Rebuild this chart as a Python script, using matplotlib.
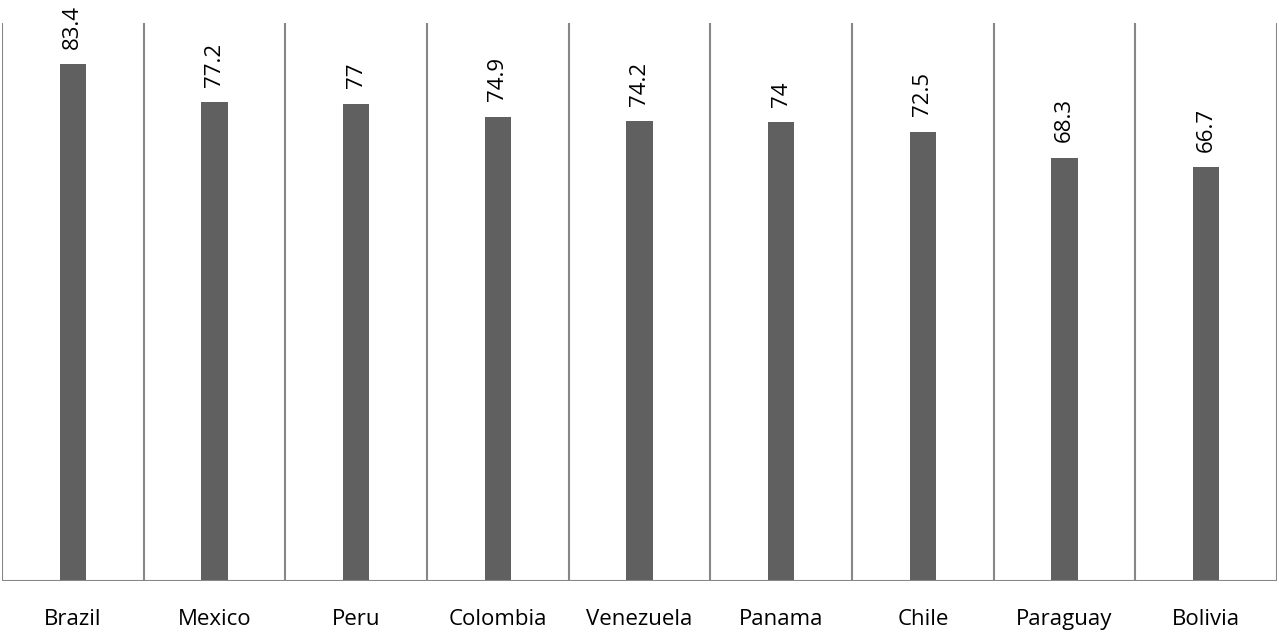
import matplotlib
matplotlib.use("Agg")
import matplotlib.pyplot as plt
import numpy as np

categories = ["Brazil", "Mexico", "Peru", "Colombia", "Venezuela", "Panama", "Chile", "Paraguay", "Bolivia"]
values = [83.4, 77.2, 77, 74.9, 74.2, 74, 72.5, 68.3, 66.7]
labels = ["83.4", "77.2", "77", "74.9", "74.2", "74", "72.5", "68.3", "66.7"]

plt.rcParams['font.family'] = ['Open Sans', 'DejaVu Sans']

fig = plt.figure(figsize=(12.79, 6.33), dpi=100)
ax = fig.add_axes([2/1279, 1 - 581/633, 1275/1279, 558/633])

x = np.arange(len(categories))
ax.bar(x, values, width=0.185, color="#606060", zorder=3)
for xi, v, lab in zip(x, values, labels):
    ax.annotate(lab, (xi, v), xytext=(0, 11), textcoords="offset points",
                rotation=90, ha="center", va="bottom", fontsize=16, color="#000000",
                annotation_clip=False)

ax.set_xlim(-0.5, len(categories) - 0.5)
ax.set_ylim(0, 90)
for b in np.arange(-0.5, len(categories), 1.0):
    ax.axvline(b, color="#878787", lw=1.5, zorder=1)
ax.axhline(0, color="#878787", lw=1.5, zorder=4)

ax.set_xticks(x)
ax.set_xticklabels(categories, fontsize=16)
ax.tick_params(axis="x", length=0, pad=20)
ax.set_yticks([])
for s in ax.spines.values():
    s.set_visible(False)
ax.patch.set_visible(False)

fig.savefig("out.png", dpi=100)
